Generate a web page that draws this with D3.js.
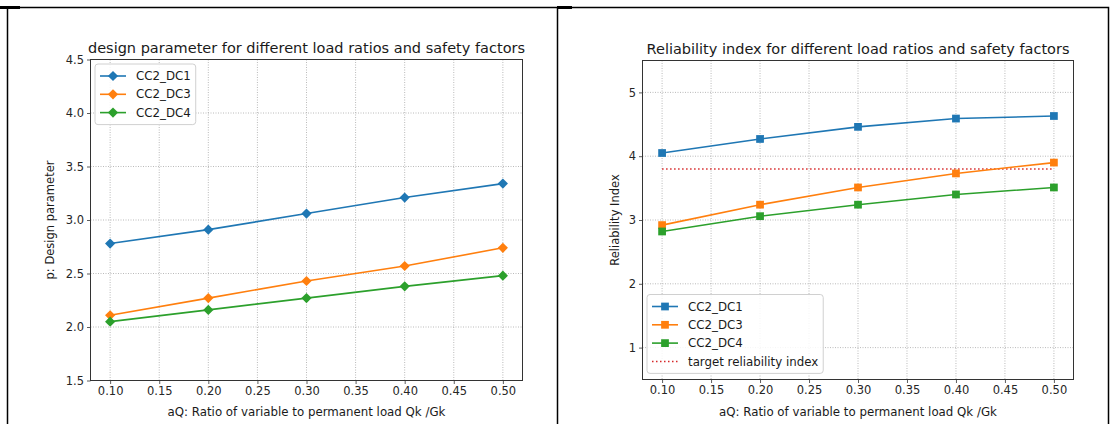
<!DOCTYPE html>
<html>
<head>
<meta charset="utf-8">
<script src="https://cdn.jsdelivr.net/npm/d3@7"></script>
<style>
  html, body { margin: 0; padding: 0; background: #fff; }
  svg { display: block; font-family: "DejaVu Sans", sans-serif; }
</style>
</head>
<body>
<div id="chart"></div>
<script>
// Data
const loadRatios = [0.10, 0.20, 0.30, 0.40, 0.50];
const xTicks = [0.10, 0.15, 0.20, 0.25, 0.30, 0.35, 0.40, 0.45, 0.50];

const seriesNames = ['CC2_DC1', 'CC2_DC3', 'CC2_DC4'];

// left panel: design parameter p
const designDC1 = [2.78, 2.91, 3.06, 3.21, 3.34];
const designDC3 = [2.11, 2.27, 2.43, 2.57, 2.74];
const designDC4 = [2.05, 2.16, 2.27, 2.38, 2.48];
const designTicks = [1.5, 2.0, 2.5, 3.0, 3.5, 4.0, 4.5];

// right panel: reliability index
const reliabDC1 = [4.05, 4.27, 4.46, 4.59, 4.63];
const reliabDC3 = [2.92, 3.24, 3.51, 3.73, 3.90];
const reliabDC4 = [2.82, 3.06, 3.24, 3.40, 3.51];
const targetReliability = 3.8;
const reliabTicks = [1, 2, 3, 4, 5];

(function main(){
  const W = 1112, H = 424;
  const colors = ['#1f77b4', '#ff7f0e', '#2ca02c'];
  const targetColor = '#d62728';

  const svg = d3.select('#chart').append('svg')
    .attr('width', W).attr('height', H)
    .attr('viewBox', `0 0 ${W} ${H}`);

  // table cell borders around the two figures
  const border = svg.append('g').attr('stroke', '#000').attr('fill', 'none');
  border.append('path').attr('d', 'M7.5,424 V7.5 H557.5 V424').attr('stroke-width', 1.5);
  border.append('path').attr('d', 'M557.5,7.5 H1108.5 V424').attr('stroke-width', 1.5);
  border.append('path').attr('d', 'M0,7.5 H20').attr('stroke-width', 3);
  border.append('path').attr('d', 'M557,7.5 H572').attr('stroke-width', 3);

  function drawPanel(cfg) {
    const x = d3.scaleLinear().domain([0.08, 0.52]).range([cfg.left, cfg.right]);
    const y = d3.scaleLinear().domain(cfg.yDomain).range([cfg.bottom, cfg.top]);
    const g = svg.append('g');

    // grid
    const grid = g.append('g')
      .attr('stroke', '#a8a8a8').attr('stroke-width', 0.8)
      .attr('stroke-dasharray', '1,1.5');
    grid.selectAll('.gx').data(xTicks).enter().append('line')
      .attr('x1', d => x(d)).attr('x2', d => x(d))
      .attr('y1', cfg.top).attr('y2', cfg.bottom);
    grid.selectAll('.gy').data(cfg.yTicks).enter().append('line')
      .attr('y1', d => y(d)).attr('y2', d => y(d))
      .attr('x1', cfg.left).attr('x2', cfg.right);

    // axes
    const xAxis = g.append('g')
      .attr('transform', `translate(0,${cfg.bottom})`)
      .call(d3.axisBottom(x).tickValues(xTicks).tickFormat(d3.format('.2f'))
        .tickSizeOuter(0).tickSize(3.5).tickPadding(3));
    const yAxis = g.append('g')
      .attr('transform', `translate(${cfg.left},0)`)
      .call(d3.axisLeft(y).tickValues(cfg.yTicks).tickFormat(cfg.yFormat)
        .tickSizeOuter(0).tickSize(3.5).tickPadding(3));
    [xAxis, yAxis].forEach(a => {
      a.select('.domain').remove();
      a.attr('font-family', null).attr('font-size', null);
      a.selectAll('line').attr('stroke', '#333').attr('stroke-width', 0.8);
      a.selectAll('text').style('font-size', '11.5px').attr('fill', '#262626');
    });

    // frame
    g.append('rect')
      .attr('x', cfg.left).attr('y', cfg.top)
      .attr('width', cfg.right - cfg.left).attr('height', cfg.bottom - cfg.top)
      .attr('fill', 'none').attr('stroke', '#333').attr('stroke-width', 1);

    // target line (right panel)
    if (cfg.target != null) {
      g.append('line')
        .attr('x1', x(loadRatios[0])).attr('x2', x(loadRatios[loadRatios.length - 1]))
        .attr('y1', y(cfg.target)).attr('y2', y(cfg.target))
        .attr('stroke', targetColor).attr('stroke-width', 1.5)
        .attr('stroke-dasharray', '1.5,2.5');
    }

    const line = d3.line().x((d, i) => x(loadRatios[i])).y(d => y(d));
    const markerPath = cfg.marker === 'diamond'
      ? d3.symbol().type(d3.symbolSquare).size(52)()
      : d3.symbol().type(d3.symbolSquare).size(60)();
    const markerRot = cfg.marker === 'diamond' ? 45 : 0;

    cfg.series.forEach((vals, si) => {
      g.append('path').datum(vals)
        .attr('d', line).attr('fill', 'none')
        .attr('stroke', colors[si]).attr('stroke-width', 1.6);
      g.selectAll(`.m${si}`).data(vals).enter().append('path')
        .attr('d', markerPath)
        .attr('transform', (d, i) => `translate(${x(loadRatios[i])},${y(d)}) rotate(${markerRot})`)
        .attr('fill', colors[si]);
    });

    // title and labels
    const cx = (cfg.left + cfg.right) / 2;
    g.append('text').attr('x', cx).attr('y', cfg.top - 7)
      .attr('text-anchor', 'middle').style('font-size', '14.5px').attr('fill', '#1a1a1a')
      .text(cfg.title);
    g.append('text').attr('x', cx).attr('y', 416)
      .attr('text-anchor', 'middle').style('font-size', '11.8px').attr('fill', '#1a1a1a')
      .text('aQ: Ratio of variable to permanent load Qk /Gk');
    g.append('text')
      .attr('transform', `translate(${cfg.yLabelX},${(cfg.top + cfg.bottom) / 2}) rotate(-90)`)
      .attr('text-anchor', 'middle').attr('dy', '0.35em')
      .style('font-size', '11.5px').attr('fill', '#1a1a1a')
      .text(cfg.yLabel);

    // legend
    const items = seriesNames.map((n, i) => ({ name: n, color: colors[i], kind: 'marker' }));
    if (cfg.target != null) items.push({ name: 'target reliability index', color: targetColor, kind: 'dotted' });
    const lg = g.append('g');
    const box = lg.append('rect')
      .attr('fill', '#fff').attr('fill-opacity', 0.85)
      .attr('stroke', '#d0d0d0').attr('stroke-width', 1).attr('rx', 3);
    const rowH = 18.3;
    let maxW = 0;
    items.forEach((it, i) => {
      const yy = cfg.legendY + i * rowH;
      const x0 = cfg.legendX + 5;
      if (it.kind === 'marker') {
        lg.append('line').attr('x1', x0).attr('x2', x0 + 26).attr('y1', yy).attr('y2', yy)
          .attr('stroke', it.color).attr('stroke-width', 1.6);
        lg.append('path').attr('d', markerPath)
          .attr('transform', `translate(${x0 + 13},${yy}) rotate(${markerRot})`)
          .attr('fill', it.color);
      } else {
        lg.append('line').attr('x1', x0).attr('x2', x0 + 26).attr('y1', yy).attr('y2', yy)
          .attr('stroke', it.color).attr('stroke-width', 1.5).attr('stroke-dasharray', '1.5,2.5');
      }
      const t = lg.append('text').attr('x', x0 + 36).attr('y', yy).attr('dy', '0.35em')
        .style('font-size', '11.8px').attr('fill', '#1a1a1a').text(it.name);
      maxW = Math.max(maxW, t.node().getComputedTextLength());
    });
    box.attr('x', cfg.legendX).attr('y', cfg.legendY - 12)
      .attr('width', 41 + maxW + 5)
      .attr('height', (items.length - 1) * rowH + 24);
  }

  drawPanel({
    left: 90.5, right: 522.5, top: 59.5, bottom: 380.5,
    yDomain: [1.5, 4.5], yTicks: designTicks, yFormat: d3.format('.1f'),
    series: [designDC1, designDC3, designDC4],
    marker: 'diamond',
    title: 'design parameter for different load ratios and safety factors',
    yLabel: 'p: Design parameter', yLabelX: 50,
    legendX: 95, legendY: 76
  });

  drawPanel({
    left: 642.5, right: 1073.5, top: 60.5, bottom: 379.5,
    yDomain: [0.5, 5.5], yTicks: reliabTicks, yFormat: d3.format('d'),
    series: [reliabDC1, reliabDC3, reliabDC4],
    marker: 'square', target: targetReliability,
    title: 'Reliability index for different load ratios and safety factors',
    yLabel: 'Reliability Index', yLabelX: 615,
    legendX: 647, legendY: 306.5
  });
})();
</script>
</body>
</html>
